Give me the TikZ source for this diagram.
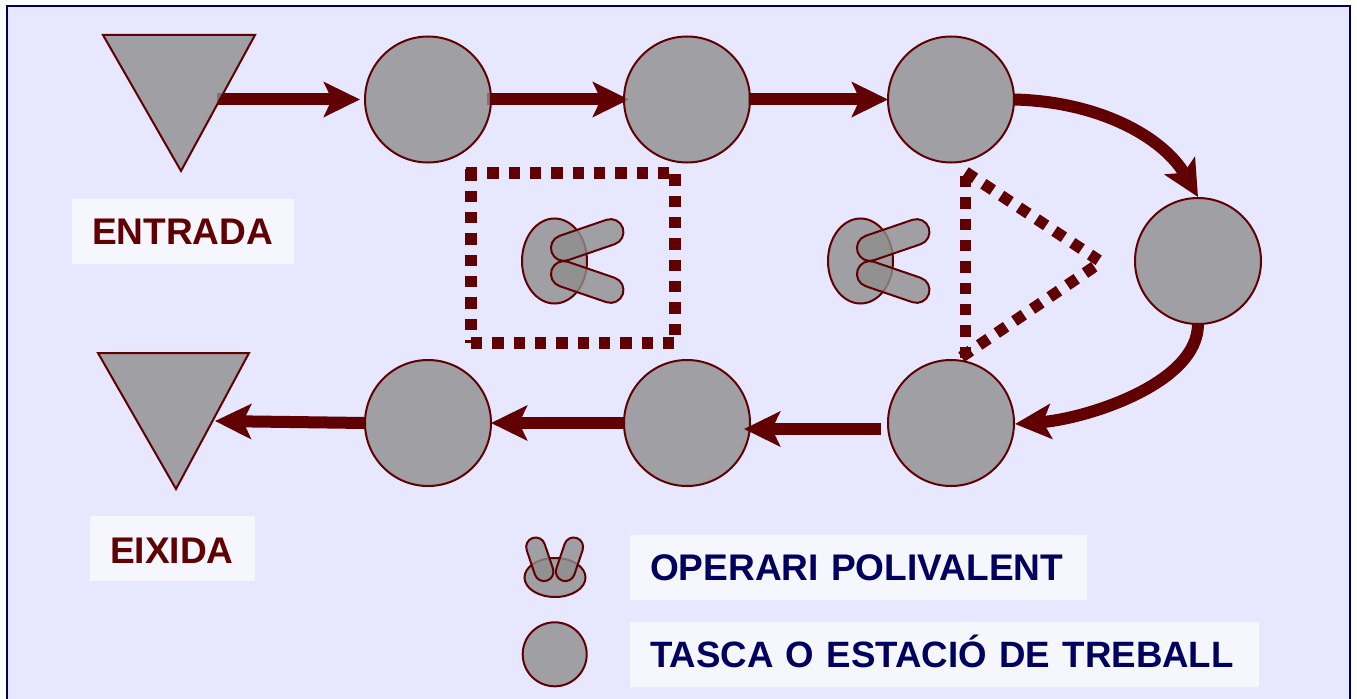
\documentclass[tikz,border=0pt]{standalone}
\usepackage{fontspec}
\setmainfont{Liberation Sans}
\usetikzlibrary{calc,arrows.meta,shapes.geometric,shapes.misc,backgrounds}
\definecolor{wine}{HTML}{600000}
\definecolor{navytxt}{HTML}{00005E}
\definecolor{lav}{HTML}{E7E7FF}
\definecolor{pale}{HTML}{F6F6FF}
\definecolor{shade}{HTML}{8E8E8E}
\tikzset{
  x=0.75pt,y=-0.75pt,
  solid shape/.style={draw=wine,line width=1.5pt,fill=shade,fill opacity=.8,inner sep=0pt,outer sep=0pt},
  station/.style={solid shape,circle,minimum size=94.5pt},
  smallstation/.style={solid shape,circle,minimum size=48pt},
  body/.style={solid shape,ellipse,minimum width=48.75pt,minimum height=63.75pt},
  smallbody/.style={solid shape,ellipse,minimum width=45.75pt,minimum height=29.25pt},
  hand/.style={solid shape,rounded rectangle,minimum width=56.4pt,minimum height=19.3pt},
  smallhand/.style={solid shape,rounded rectangle,minimum width=33.75pt,minimum height=14.25pt},
  flow/.style={draw=wine,line width=9pt,-{Stealth[length=27pt,width=26pt,inset=6pt]}},
  dots/.style={draw=wine,line width=8.5pt,dash pattern=on 8.5pt off 7.5pt},
  lab/.style={fill=pale,inner xsep=15pt,inner ysep=0pt,outer sep=0pt,align=left,font=\bfseries\fontsize{27.8pt}{30pt}\selectfont,minimum height=48.75pt,text height=20pt,text depth=0pt},
}
\begin{document}
\begin{tikzpicture}
\useasboundingbox (0,0) rectangle (1357,699);
\coordinate (tinA) at (103,35);
\coordinate (tinB) at (255,35);
\coordinate (tinC) at (181,171);
\coordinate (tinout) at (217,99.5);
\draw[solid shape] (tinA) -- (tinB) -- (tinC) -- cycle;
\coordinate (toutA) at (98,353);
\coordinate (toutB) at (249,353);
\coordinate (toutC) at (176,489);
\coordinate (toutin) at (215,421);
\draw[solid shape] (toutA) -- (toutB) -- (toutC) -- cycle;
\node[station] (c1) at (428,99.5) {};
\node[station] (c2) at (687,99.5) {};
\node[station] (c3) at (951,99.5) {};
\node[station] (c4) at (1198,261) {};
\node[station] (c5) at (951,423) {};
\node[station] (c6) at (687,423) {};
\node[station] (c7) at (428,423) {};
\node[body] (w1) at (554.5,261) {};
\node[hand,rotate=18.9] (w1a) at (587.2,240) {};
\node[hand,rotate=-18.9] (w1b) at (587.2,282) {};
\node[body] (w2) at (860.5,261) {};
\node[hand,rotate=18.9] (w2a) at (893.2,240) {};
\node[hand,rotate=-18.9] (w2b) at (893.2,282) {};
\node[smallbody] (lw) at (555,577.5) {};
\node[smallhand,rotate=-71.4] (lwa) at (539.8,559.3) {};
\node[smallhand,rotate=71.4] (lwb) at (569.5,559.3) {};
\node[smallstation] (lc) at (554.7,654.3) {};
\node[lab,text=wine,text width=136.5pt,anchor=north west] (entrada) at (72,199) {ENTRADA};
\node[lab,text=wine,text width=93.75pt,text height=22pt,anchor=north west] (eixida) at (90,516) {EIXIDA};
\node[lab,text=navytxt,text width=312.75pt,anchor=north west] (operari) at (630,535) {OPERARI POLIVALENT};
\node[lab,text=navytxt,text width=441.75pt,anchor=north west] (tasca) at (630,622) {\mbox{\fontsize{27.5pt}{30pt}\selectfont TASCA O ESTACIÓ DE TREBALL}};
\path[flow] ($(c5.west)+(-7,6)$) -- ($(c6.east)+(-6,6)$);
\begin{pgfonlayer}{background}
\fill[white] (0,0) rectangle (1357,699);
\draw[draw=navytxt,fill=lav,line width=1.5pt] (7,6) rectangle (1350,710);
\path[flow] (tinout) -- ($(c1.west)+(-5,0)$);
\path[flow] ($(c1.east)+(-4,0)$) -- ($(c2.west)+(5,0)$);
\path[flow] ($(c2.east)+(-2,0)$) -- (c3.west);
\path[flow] (c3.east) .. controls +(85,2) and +(-35,-60) .. ($(c4.north)+(0,-1)$);
\path[flow] (c4.south) .. controls +(0,60) and +(70,-5) .. ($(c5.east)+(1,1)$);
\path[flow] (c6.west) -- (c7.east);
\path[flow] (c7.west) -- (toutin);
\path[dots] (466,173) -- (677,173);
\path[dots] (675,174.3) -- (675,340);
\path[dots] (471,343) -- (675,343);
\path[dots] (471,169.3) -- (471,342.7);
\path[dots] (965.3,176) -- (965.3,359);
\path[dots] (965.6,172) -- (1098.7,260.3);
\path[dots] (1094.3,266.7) -- (960,358);
\end{pgfonlayer}
\end{tikzpicture}
\end{document}
